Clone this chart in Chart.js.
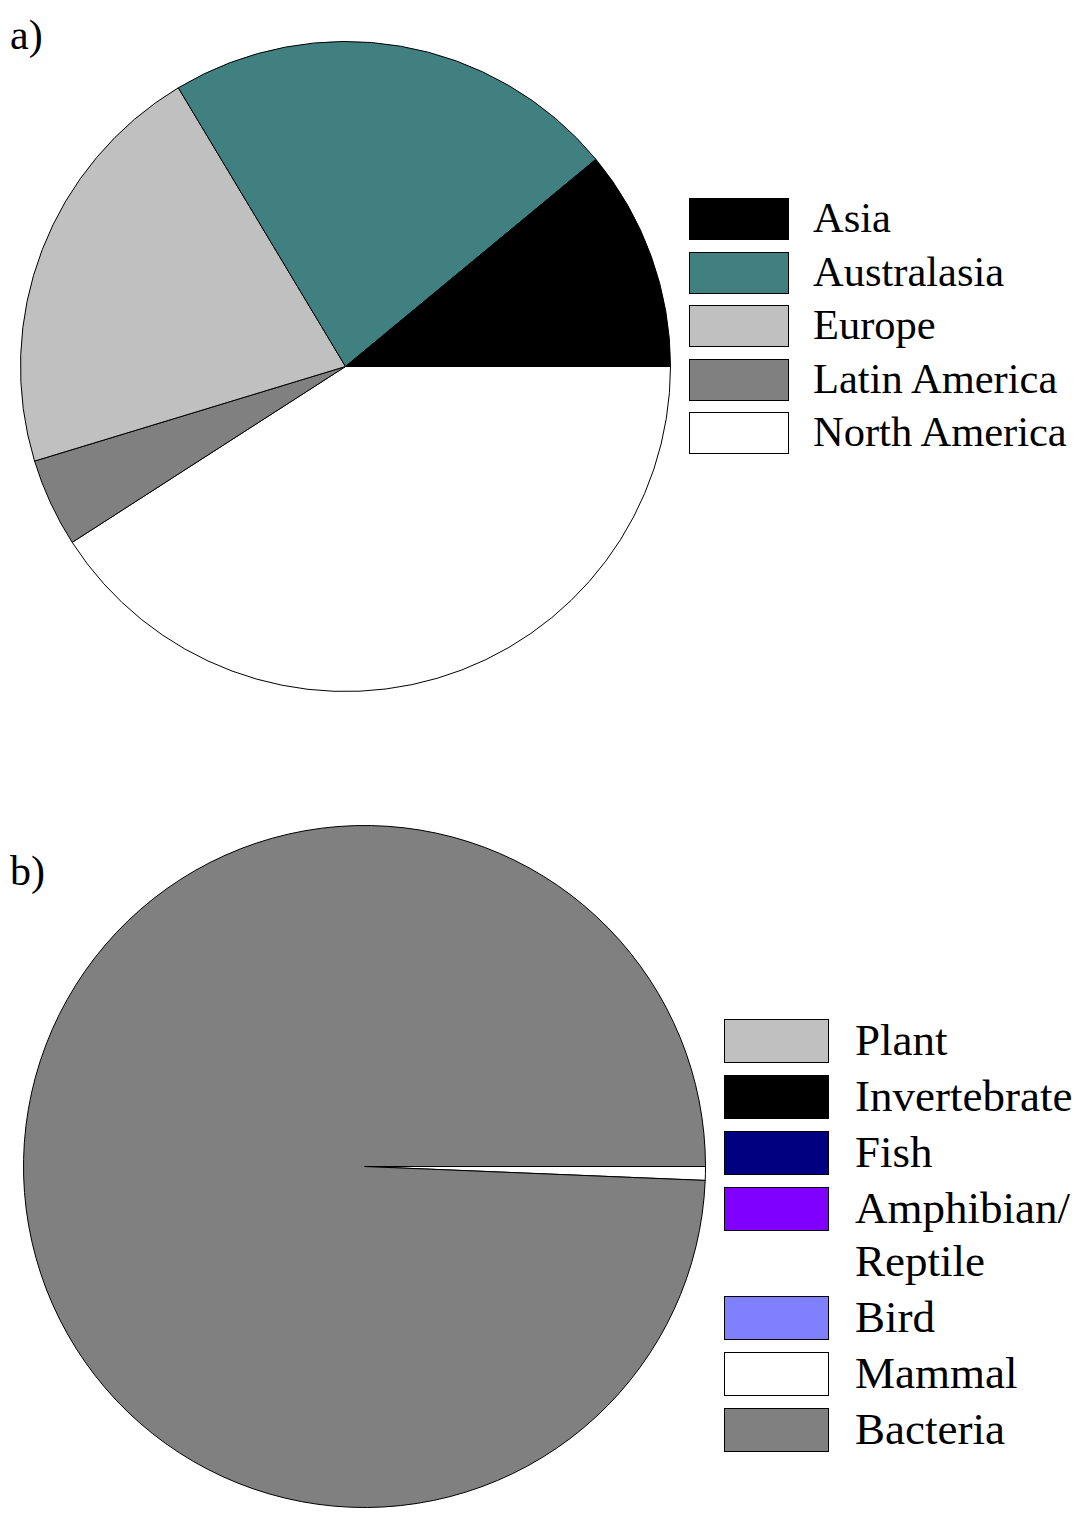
<!DOCTYPE html>
<html>
<head>
<meta charset="utf-8">
<script src="https://cdn.jsdelivr.net/npm/chart.js@4"></script>
<style>
  html, body { margin: 0; padding: 0; background: #fff; }
  body { width: 1086px; height: 1522px; position: relative; overflow: hidden; font-family: "Liberation Serif", "Times New Roman", serif; color: #000; }
  .cv { position: absolute; }
  .panel { position: absolute; font-size: 42px; line-height: 42px; white-space: nowrap; }
  .box { position: absolute; box-sizing: border-box; border: 1.5px solid #000; }
  .lbl { position: absolute; white-space: nowrap; }
</style>
</head>
<body>
<div class="panel" style="left:10px; top:14px;">a)</div>
<div class="panel" style="left:10px; top:850px;">b)</div>

<div class="cv" style="left:20px; top:41px; width:651px; height:651px;"><canvas id="chartA"></canvas></div>
<div class="cv" style="left:23px; top:825px; width:683px; height:683px;"><canvas id="chartB"></canvas></div>
<div id="legendA"></div>
<div id="legendB"></div>

<script>
// ---- Data (a) : regions, percent of total ----
const regionLabels = ["Asia", "Australasia", "Europe", "Latin America", "North America"];
const regionValues = [11.0, 22.6, 21.1, 4.4, 40.9];
const regionColors = ["#000000", "#408080", "#C0C0C0", "#808080", "#FFFFFF"];

// ---- Data (b) : source organism, percent of total ----
const sourceLabels = ["Plant", "Invertebrate", "Fish", "Amphibian/\nReptile", "Bird", "Mammal", "Bacteria"];
const sourceValues = [0, 0, 0, 0, 0, 0.65, 99.35];
const sourceColors = ["#C0C0C0", "#000000", "#000080", "#8000FF", "#8080FF", "#FFFFFF", "#808080"];

// Pie (a) is laid out counter-clockwise from 3 o'clock: Chart.js draws clockwise,
// so feed it the reversed order.
const revLabels = regionLabels.slice().reverse();
const revValues = regionValues.slice().reverse();
const revColors = regionColors.slice().reverse();

const baseOpts = {
  responsive: true,
  maintainAspectRatio: false,
  animation: false,
  rotation: 90,
  layout: { padding: 0 },
  plugins: { legend: { display: false }, tooltip: { enabled: false }, title: { display: false } }
};

new Chart(document.getElementById('chartA'), {
  type: 'pie',
  data: {
    labels: revLabels,
    datasets: [{ data: revValues, backgroundColor: revColors, borderColor: '#000', borderWidth: 1 }]
  },
  options: baseOpts
});

new Chart(document.getElementById('chartB'), {
  type: 'pie',
  data: {
    labels: sourceLabels,
    datasets: [{ data: sourceValues, backgroundColor: sourceColors, borderColor: '#000', borderWidth: 1 }]
  },
  options: baseOpts
});

// ---- HTML legends ----
function buildLegend(el, labels, colors, cfg) {
  let y = cfg.top;
  labels.forEach((lab, i) => {
    const box = document.createElement('div');
    box.className = 'box';
    box.style.left = cfg.boxLeft + 'px';
    box.style.top = y + 'px';
    box.style.width = cfg.boxW + 'px';
    box.style.height = cfg.boxH + 'px';
    box.style.background = colors[i];
    el.appendChild(box);
    const lines = lab.split('\n');
    lines.forEach((ln, k) => {
      const t = document.createElement('div');
      t.className = 'lbl';
      t.textContent = ln;
      t.style.left = cfg.textLeft + 'px';
      t.style.top = (y + cfg.textDy + k * cfg.lineH) + 'px';
      t.style.fontSize = cfg.font + 'px';
      t.style.lineHeight = cfg.font + 'px';
      el.appendChild(t);
    });
    y += cfg.step + (lines.length - 1) * cfg.lineH;
  });
}

buildLegend(document.getElementById('legendA'), regionLabels, regionColors,
  { top: 198, boxLeft: 689, boxW: 100, boxH: 42, textLeft: 813, textDy: -1, font: 42.5, step: 53.5, lineH: 50 });
buildLegend(document.getElementById('legendB'), sourceLabels, sourceColors,
  { top: 1019, boxLeft: 724, boxW: 105, boxH: 44, textLeft: 855, textDy: -1, font: 45, step: 56, lineH: 53 });
</script>
</body>
</html>
